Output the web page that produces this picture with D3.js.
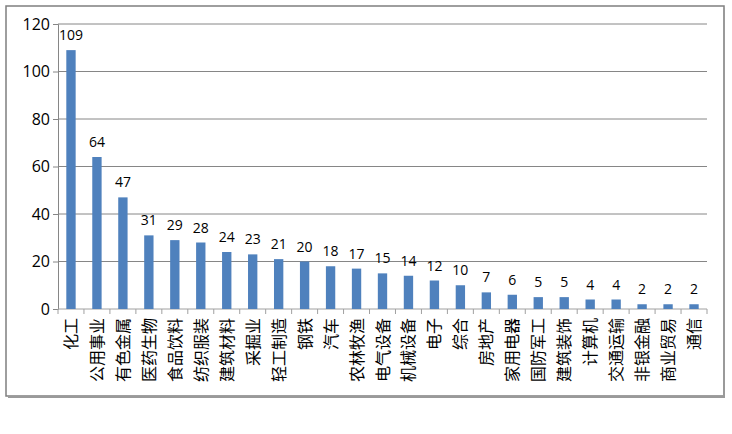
<!DOCTYPE html>
<html>
<head>
<meta charset="utf-8">
<script src="https://cdn.jsdelivr.net/npm/d3@7"></script>
<style>
  body { margin: 0; background: #fff; }
  text { font-family: "Open Sans", "DejaVu Sans", sans-serif; }
  .cat { font-family: "Noto Sans CJK SC", sans-serif; }
</style>
</head>
<body>
<svg id="chart" width="732" height="434"></svg>
<script>
const categories = ["化工", "公用事业", "有色金属", "医药生物", "食品饮料", "纺织服装", "建筑材料", "采掘业", "轻工制造", "钢铁", "汽车", "农林牧渔", "电气设备", "机械设备", "电子", "综合", "房地产", "家用电器", "国防军工", "建筑装饰", "计算机", "交通运输", "非银金融", "商业贸易", "通信"];
const values = [109, 64, 47, 31, 29, 28, 24, 23, 21, 20, 18, 17, 15, 14, 12, 10, 7, 6, 5, 5, 4, 4, 2, 2, 2];
const yTicks = [0, 20, 40, 60, 80, 100, 120];

const svg = d3.select("#chart");

// outer frame
svg.append("rect")
    .attr("x", 6).attr("y", 6)
    .attr("width", 718).attr("height", 390)
    .attr("fill", "#fff")
    .attr("stroke", "#7f7f7f")
    .attr("stroke-width", 1.5);
svg.append("path")
    .attr("d", "M724,8 V397 H8")
    .attr("fill", "none")
    .attr("stroke", "#9a9a9a")
    .attr("stroke-width", 2);

const plotL = 58, plotR = 707, plotT = 24, plotB = 309;

const x = d3.scaleBand()
    .domain(categories)
    .range([plotL, plotR])
    .paddingInner(0.64)
    .paddingOuter(0.32);

const y = d3.scaleLinear()
    .domain([0, 120])
    .range([plotB, plotT]);

// gridlines
svg.append("g")
    .selectAll("line")
    .data(yTicks.filter(d => d > 0))
    .join("line")
    .attr("x1", plotL).attr("x2", plotR)
    .attr("y1", d => y(d)).attr("y2", d => y(d))
    .attr("stroke", "#868686")
    .attr("stroke-width", 1);

// y axis
const yAxis = svg.append("g")
    .attr("transform", `translate(${plotL},0)`)
    .call(d3.axisLeft(y).tickValues(yTicks).tickSize(5).tickPadding(3));
yAxis.select(".domain").attr("stroke", "#868686");
yAxis.selectAll(".tick line").attr("stroke", "#868686");
yAxis.selectAll("text").attr("font-size", 16).attr("fill", "#000");

// x axis line and separator ticks
svg.append("line")
    .attr("x1", plotL).attr("x2", plotR)
    .attr("y1", plotB).attr("y2", plotB)
    .attr("stroke", "#a0a0a0");
const step = x.step();
svg.append("g")
    .selectAll("line")
    .data(d3.range(categories.length + 1))
    .join("line")
    .attr("x1", i => plotL + i * step).attr("x2", i => plotL + i * step)
    .attr("y1", plotB).attr("y2", plotB + 5)
    .attr("stroke", "#a0a0a0");

// bars
svg.append("g")
    .selectAll("rect")
    .data(values)
    .join("rect")
    .attr("x", (d, i) => x(categories[i]))
    .attr("y", d => y(d))
    .attr("width", x.bandwidth())
    .attr("height", d => plotB - y(d))
    .attr("fill", "#4f81bd");

// value labels
svg.append("g")
    .selectAll("text")
    .data(values)
    .join("text")
    .attr("x", (d, i) => x(categories[i]) + x.bandwidth() / 2)
    .attr("y", d => y(d) - 10)
    .attr("text-anchor", "middle")
    .attr("font-size", 14)
    .attr("fill", "#000")
    .text(d => d);

// category labels
svg.append("g")
    .selectAll("text")
    .data(categories)
    .join("text")
    .attr("class", "cat")
    .attr("transform", d => `translate(${x(d) + x.bandwidth() / 2 + 6},${plotB + 9}) rotate(-90)`)
    .attr("text-anchor", "end")
    .attr("font-size", 16)
    .attr("fill", "#000")
    .text(d => d);
</script>
</body>
</html>
